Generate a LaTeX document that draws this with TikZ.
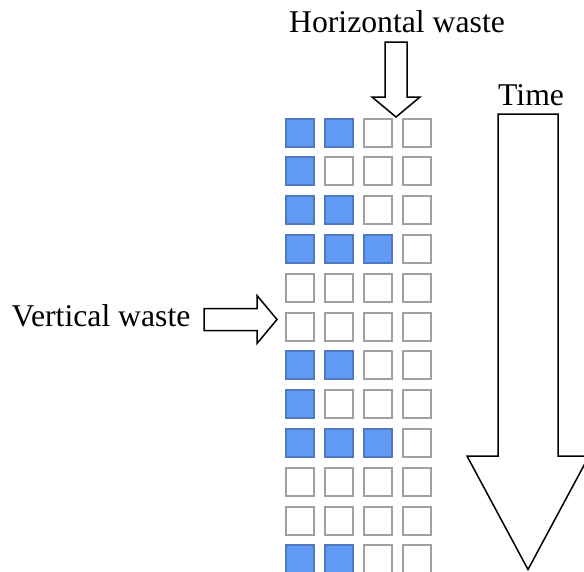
\documentclass[tikz,border=0pt]{standalone}
\usepackage{fontspec}
\setmainfont{Liberation Serif}
\definecolor{cellblue}{RGB}{98,155,245}
\definecolor{cellblueedge}{RGB}{80,120,190}
\definecolor{celledge}{RGB}{160,160,160}
\tikzset{
  cell/.style={rectangle, minimum size=28pt, inner sep=0pt, line width=2pt},
  lbl/.style={anchor=base west, inner sep=0pt, font=\fontsize{31.7}{38}\selectfont},
  blockarrow/.style={draw=black, fill=white, line width=1.5pt, line join=miter}
}
\begin{document}
\begin{tikzpicture}[x=1pt,y=-1pt]
\useasboundingbox (0,0) rectangle (584,571);
\clip (0,0) rectangle (584,571);
\fill[white] (0,0) rectangle (584,571);
% grid of cells
\foreach \r/\n in {0/2,1/1,2/2,3/3,4/0,5/0,6/2,7/1,8/3,9/0,10/0,11/2} {
  \foreach \c in {0,1,2,3} {
    \pgfmathsetmacro\cx{300+39*\c}
    \pgfmathsetmacro\cy{132.5+38.8*\r}
    \ifnum\c<\n\relax
      \def\fc{cellblue}\def\dc{cellblueedge}
    \else
      \def\fc{white}\def\dc{celledge}
    \fi
    \node[cell, fill=\fc, draw=\dc] (c-\r-\c) at (\cx,\cy) {};
  }
}
% labels
\node[lbl] (hw) at (289,32) {Horizontal waste};
\node[lbl] (vw) at (11.5,326.5) {Vertical waste};
\node[lbl] (tm) at (498,105) {Time};
% horizontal waste arrow
\draw[blockarrow] (385,42) -- (407,42) -- (407,97) -- (420,97) -- (396,117)
  -- (372,97) -- (385,97) -- cycle;
% vertical waste arrow
\draw[blockarrow] (204,308.5) -- (257,308.5) -- (257,295.5) -- (277,319.5)
  -- (257,343.5) -- (257,330.5) -- (204,330.5) -- cycle;
% time arrow
\draw[blockarrow] (498,114) -- (558,114) -- (558,456) -- (589,456) -- (528,569.5)
  -- (467,456) -- (498,456) -- cycle;
\end{tikzpicture}
\end{document}
